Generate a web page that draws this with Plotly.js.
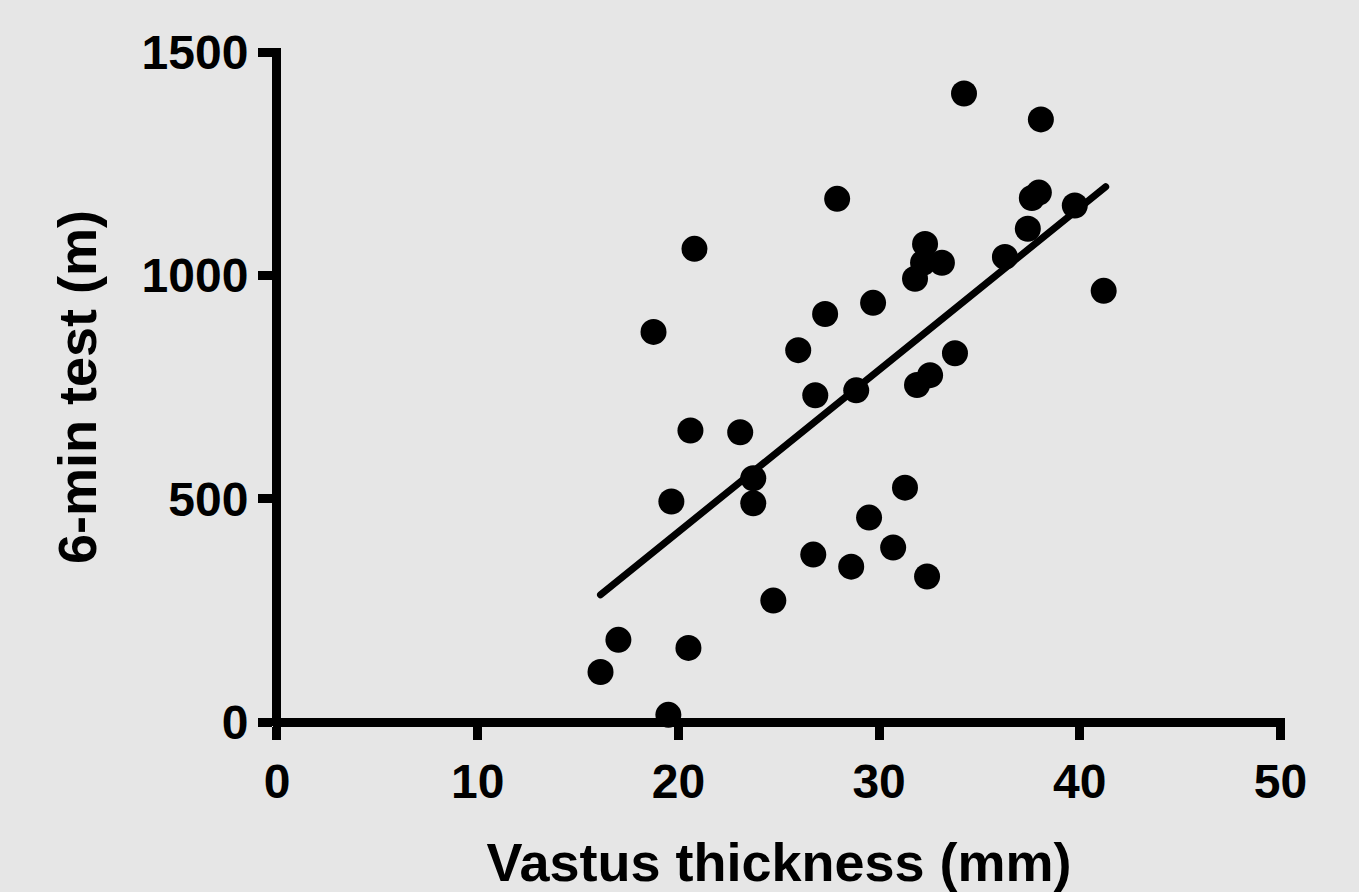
<!DOCTYPE html>
<html>
<head>
<meta charset="utf-8">
<script src="https://cdn.plot.ly/plotly-3.0.1.min.js"></script>
<style>
html,body{margin:0;padding:0;background:#e6e6e6;}
#chart{width:1359px;height:892px;}
</style>
</head>
<body>
<div id="chart"></div>
<script>
// Vastus thickness (mm)
const thickness = [34.23, 38.06, 27.91, 37.61, 37.96, 39.75, 37.41, 20.80, 32.29, 32.19,
  33.13, 31.79, 36.27, 41.19, 18.76, 29.70, 27.31, 25.97, 33.78, 32.54,
  31.89, 26.82, 28.86, 20.60, 23.08, 23.73, 23.73, 19.65, 31.29, 29.50,
  30.70, 26.72, 28.61, 32.39, 24.73, 17.01, 20.50, 16.12, 19.50];
// 6-min test (m)
const walkDistance = [1408, 1350, 1172, 1174, 1186, 1157, 1105, 1060, 1071, 1029,
  1029, 993, 1042, 966, 874, 939, 914, 833, 826, 777,
  755, 732, 743, 653, 649, 546, 490, 494, 525, 458,
  391, 375, 348, 326, 272, 184, 166, 112, 16];
// Regression line end points
const fitX = [16.12, 41.29];
const fitY = [285, 1199];

const xTicks = [0, 10, 20, 30, 40, 50];
const yTicks = [0, 500, 1000, 1500];

const fontFam = '"Liberation Sans", Arial, Helvetica, sans-serif';

const data = [
  {
    x: fitX, y: fitY, type: 'scatter', mode: 'lines',
    line: {color: '#000', width: 7},
    hoverinfo: 'skip', cliponaxis: false
  },
  {
    x: thickness, y: walkDistance, type: 'scatter', mode: 'markers',
    marker: {color: '#000', size: 26, line: {width: 0}},
    cliponaxis: false
  }
];

const layout = {
  width: 1359, height: 892,
  paper_bgcolor: '#e6e6e6', plot_bgcolor: '#e6e6e6',
  showlegend: false,
  margin: {l: 273, r: 74, t: 47.5, b: 166},
  font: {family: fontFam, color: '#000', size: 48, weight: 700},
  xaxis: {
    range: [-0.199, 50.224], tickvals: xTicks, ticktext: xTicks.map(String),
    showgrid: false, showline: false,
    zeroline: true, zerolinewidth: 9, zerolinecolor: '#000',
    ticks: 'outside', ticklen: 13, tickwidth: 9, tickcolor: '#000',
    tickfont: {family: fontFam, size: 48, weight: 700, color: '#000'},
    title: {text: 'Vastus thickness (mm)', standoff: 37,
      font: {family: fontFam, size: 54, weight: 700, color: '#000'}},
    automargin: false, fixedrange: true
  },
  yaxis: {
    range: [-8.96, 1510], tickvals: yTicks, ticktext: yTicks.map(String),
    showgrid: false, showline: false,
    zeroline: true, zerolinewidth: 9, zerolinecolor: '#000',
    ticks: 'outside', ticklen: 14, tickwidth: 9, tickcolor: '#000',
    tickfont: {family: fontFam, size: 48, weight: 700, color: '#000'},
    title: {text: '6-min test (m)', standoff: 27,
      font: {family: fontFam, size: 54, weight: 700, color: '#000'}},
    automargin: false, fixedrange: true
  }
};

Plotly.newPlot('chart', data, layout, {displayModeBar: false, staticPlot: true}).then(function (gd) {
  gd.querySelectorAll('.scatterlayer path.js-line').forEach(function (p) {
    p.style.strokeLinecap = 'round';
  });
});
</script>
</body>
</html>
